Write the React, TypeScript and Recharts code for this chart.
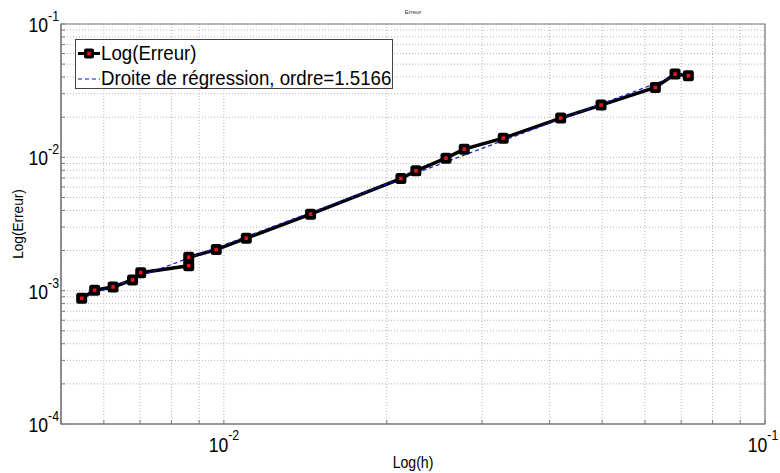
import React from "react";
import {
  LineChart, Line, XAxis, YAxis, CartesianGrid, Legend, ReferenceArea, Label
} from "recharts";

// values (log-log)
const hValues = [
  0.00546, 0.00577, 0.00624, 0.00678, 0.00702, 0.00861, 0.00861, 0.00968, 0.0110, 0.01446,
  0.02124, 0.02264, 0.02573, 0.02781, 0.03283, 0.04192, 0.04977, 0.06271, 0.06819, 0.07216,
];
const errValues = [
  0.000877, 0.001007, 0.001066, 0.001203, 0.001365, 0.001541, 0.001781, 0.002032, 0.002473, 0.003748,
  0.006933, 0.007925, 0.009863, 0.01152, 0.01393, 0.01969, 0.02465, 0.03342, 0.04213, 0.04091,
];

// regression line end points
const regH = [0.00546, 0.0722];
const regErr = [0.00088, 0.0442];

const xTicks = [
  0.005, 0.006, 0.007, 0.008, 0.009,
  0.01, 0.02, 0.03, 0.04, 0.05, 0.06, 0.07, 0.08, 0.09, 0.1,
];
const yTicks = [
  1e-4, 2e-4, 3e-4, 4e-4, 5e-4, 6e-4, 7e-4, 8e-4, 9e-4,
  1e-3, 2e-3, 3e-3, 4e-3, 5e-3, 6e-3, 7e-3, 8e-3, 9e-3,
  1e-2, 2e-2, 3e-2, 4e-2, 5e-2, 6e-2, 7e-2, 8e-2, 9e-2,
  1e-1,
];

const title = "Erreur";
const xLabel = "Log(h)";
const yLabel = "Log(Erreur)";
const seriesName = "Log(Erreur)";
const regName = "Droite de régression, ordre=1.5166";

const errData = hValues.map((h, i) => ({ h, err: errValues[i] }));
const regData = regH.map((h, i) => ({ h, reg: regErr[i] }));

const FONT = "'Liberation Sans', Arial, Helvetica, sans-serif";
const AXIS_GREY = "#7a7a7a";
const BLUE = "#1414c8";
const SQUEEZE = 0.88; // the reference text is a bit narrow

// exponent if v is a power of ten, else null
function decade(v: number) {
  const e = Math.round(Math.log10(v));
  return Math.abs(Math.pow(10, e) - v) < v * 1e-6 ? e : null;
}

function PowerText({ x, y, e, anchor, sup }: any) {
  return (
    <text
      transform={`translate(${x}, ${y}) scale(${SQUEEZE}, 1)`}
      textAnchor={anchor}
      fontFamily={FONT}
      fill="#000"
    >
      <tspan fontSize={20}>10</tspan>
      <tspan fontSize={14} dy={sup}>{e}</tspan>
    </text>
  );
}

function XTick(props: any) {
  const { x, y, payload } = props;
  const e = decade(payload.value);
  return (
    <g>
      <line x1={x} y1={y} x2={x} y2={y - 4} stroke={AXIS_GREY} />
      {e !== null && <PowerText x={Math.min(x, 763)} y={y + 28} e={e} anchor="middle" sup={-12} />}
    </g>
  );
}

function YTick(props: any) {
  const { x, y, payload } = props;
  const e = decade(payload.value);
  return (
    <g>
      <line x1={x} y1={y} x2={x + 4} y2={y} stroke={AXIS_GREY} />
      {e !== null && <PowerText x={x - 2} y={y + 8} e={e} anchor="end" sup={-11} />}
    </g>
  );
}

function SquareDot(props: any) {
  const { cx, cy, index } = props;
  if (cx == null || cy == null) return <g key={`d-${index}`} />;
  return (
    <g key={`d-${index}`}>
      <rect x={cx - 5.5} y={cy - 5.5} width={11} height={11} rx={2.5} fill="#000" />
      <rect x={cx - 1.8} y={cy - 1.8} width={3.6} height={3.6} fill="#e8141e" />
    </g>
  );
}

const legendText: React.CSSProperties = {
  position: "absolute", left: 25, lineHeight: "24px", whiteSpace: "nowrap",
  transform: "scaleX(0.89)", transformOrigin: "left center",
};

function LegendBox() {
  return (
    <div
      style={{
        width: 316, height: 48, border: "1px solid #444", background: "#fff",
        fontFamily: FONT, fontSize: 21, color: "#000", position: "relative",
      }}
    >
      <svg width={24} height={48} style={{ position: "absolute", left: 1, top: 0 }}>
        <line x1={1} y1={13.5} x2={23} y2={13.5} stroke="#000" strokeWidth={3} />
        <rect x={7} y={8.5} width={10} height={10} rx={2} fill="#000" />
        <rect x={10.2} y={11.7} width={3.6} height={3.6} fill="#e8141e" />
        <line x1={1} y1={39} x2={23} y2={39} stroke={BLUE} strokeWidth={1.2} strokeDasharray="4 3" />
      </svg>
      <div style={{ ...legendText, top: 1 }}>{seriesName}</div>
      <div style={{ ...legendText, top: 26 }}>{regName}</div>
    </div>
  );
}

export default function App() {
  return (
    <div style={{ position: "absolute", left: 0, top: 0, width: 780, height: 473, background: "#fff" }}>
      <div
        style={{
          position: "absolute", left: 0, top: 8, width: 826, textAlign: "center",
          fontFamily: FONT, fontSize: 6, lineHeight: "8px", color: "#333",
        }}
      >
        {title}
      </div>
      <LineChart
        width={780}
        height={473}
        margin={{ top: 24, right: 15, bottom: 0, left: 0 }}
      >
        <CartesianGrid stroke="#b4b4b4" strokeDasharray="1 2" />
        <XAxis
          dataKey="h"
          type="number"
          scale="log"
          domain={[0.005, 0.1]}
          allowDataOverflow
          ticks={xTicks}
          interval={0}
          height={49}
          tickSize={0}
          tickMargin={0}
          tickLine={false}
          axisLine={{ stroke: AXIS_GREY, strokeWidth: 1.2 }}
          tick={<XTick />}
        >
          <Label
            content={({ viewBox }: any) => (
              <text
                transform={`translate(${viewBox.x + viewBox.width / 2}, ${viewBox.y + 44}) scale(${SQUEEZE}, 1)`}
                textAnchor="middle"
                fontFamily={FONT}
                fontSize={16}
                fill="#000"
              >
                {xLabel}
              </text>
            )}
          />
        </XAxis>
        <YAxis
          type="number"
          scale="log"
          domain={[1e-4, 1e-1]}
          allowDataOverflow
          ticks={yTicks}
          interval={0}
          width={61}
          tickSize={0}
          tickMargin={0}
          tickLine={false}
          axisLine={{ stroke: AXIS_GREY, strokeWidth: 1.2 }}
          tick={<YTick />}
        >
          <Label
            content={({ viewBox }: any) => {
              const cx = viewBox.x + 23;
              const cy = viewBox.y + viewBox.height / 2;
              return (
                <text
                  transform={`translate(${cx}, ${cy}) rotate(-90) scale(${SQUEEZE}, 1)`}
                  textAnchor="middle"
                  fontFamily={FONT}
                  fontSize={15.5}
                  fill="#000"
                >
                  {yLabel}
                </text>
              );
            }}
          />
        </YAxis>
        <ReferenceArea
          x1={0.005}
          x2={0.1}
          y1={1e-4}
          y2={1e-1}
          fill="none"
          stroke={AXIS_GREY}
          strokeWidth={1.2}
          ifOverflow="visible"
        />
        <Line
          data={errData}
          dataKey="err"
          name={seriesName}
          stroke="#000"
          strokeWidth={3.5}
          dot={SquareDot}
          activeDot={false}
          isAnimationActive={false}
        />
        <Line
          data={regData}
          dataKey="reg"
          name={regName}
          stroke={BLUE}
          strokeWidth={1.2}
          strokeDasharray="4 3"
          dot={false}
          activeDot={false}
          isAnimationActive={false}
        />
        <Legend
          layout="horizontal"
          verticalAlign="middle"
          align="center"
          content={() => <LegendBox />}
          wrapperStyle={{ left: 75, top: 39, width: "auto", height: "auto" }}
        />
      </LineChart>
    </div>
  );
}
